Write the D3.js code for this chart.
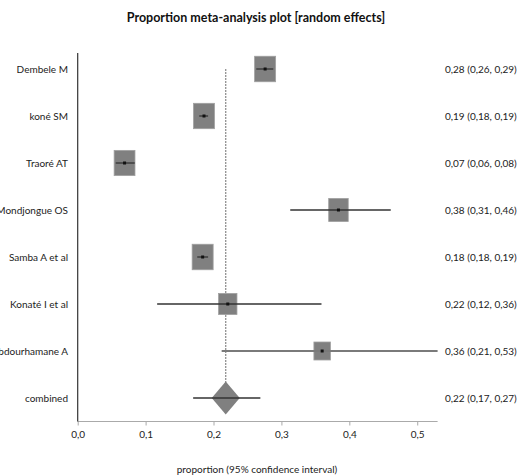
<!DOCTYPE html>
<html><head><meta charset="utf-8">
<script src="https://cdn.jsdelivr.net/npm/d3@7"></script>
<style>body{margin:0;background:#fff;} svg{display:block;font-family:Lato, "Liberation Sans", sans-serif;}</style>
</head><body><div id="chart"></div>
<script>
const studies = ["Dembele M","koné SM","Traoré AT","Mondjongue OS","Samba A et al","Konaté I et al","Abdourhamane A"];
const estimates = [0.276,0.186,0.069,0.384,0.184,0.221,0.36];
const lowerCI  = [0.263,0.179,0.056,0.313,0.176,0.117,0.212];
const upperCI  = [0.288,0.192,0.084,0.461,0.192,0.359,0.53];
const weights  = [15.5,15.4,15.3,13.7,15.5,12.3,10.0];
const combinedLabel = "combined";
const combinedEst = 0.218, combinedLow = 0.17, combinedHigh = 0.269;
const xTicks = [0,0.1,0.2,0.3,0.4,0.5];

const W = 523, H = 475;
const svg = d3.select("#chart").append("svg").attr("width", W).attr("height", H);

const x = d3.scaleLinear().domain([0, 0.53]).range([77.7, 437.6]);
const rows = studies.concat([combinedLabel]);
const y = d3.scalePoint().domain(rows).range([69, 398]);
const wScale = d3.scaleLinear().domain([10, 15.5]).range([16.5, 21]);
const hScale = d3.scaleLinear().domain([10, 15.5]).range([18, 25.5]);
const fmt = v => d3.format(".2f")(v).replace(".", ",");

// title
svg.append("text").attr("x", 256).attr("y", 22).attr("text-anchor","middle")
  .attr("font-weight","bold").attr("font-size", 12.5).attr("fill","#111")
  .text("Proportion meta-analysis plot [random effects]");

// bottom axis
const xAxis = d3.axisBottom(x).tickValues(xTicks).tickSize(4).tickFormat(d => fmt(d).replace(/(\,\d)0$/,"$1"));
const gx = svg.append("g").attr("transform","translate(0,421.5)").call(xAxis);
gx.select(".domain").attr("stroke","#aaa").attr("d", `M${x(0)},0H${x(0.53)}`);
gx.selectAll(".tick line").attr("stroke","#aaa");
gx.selectAll(".tick text").attr("font-size",10).attr("fill","#222").attr("dy","0.9em")
  .attr("font-family","Lato, sans-serif");
gx.selectAll(".tick text").text(d => d3.format(".1f")(d).replace(".", ","));

// left axis line
svg.append("line").attr("x1", x(0)).attr("x2", x(0)).attr("y1", 53).attr("y2", 421.5)
  .attr("stroke","#333").attr("stroke-width",1.2);

// reference dashed line
svg.append("line").attr("x1", x(combinedEst)).attr("x2", x(combinedEst))
  .attr("y1", y(studies[0])).attr("y2", y(combinedLabel))
  .attr("stroke","#888").attr("stroke-width",1.2).attr("stroke-dasharray","2,1");

const data = studies.map((s,i) => ({s, e: estimates[i], lo: lowerCI[i], hi: upperCI[i], w: weights[i]}));

// squares
svg.append("g").selectAll("rect").data(data).join("rect")
  .attr("x", d => x(d.e) - wScale(d.w)/2)
  .attr("y", d => y(d.s) - hScale(d.w)/2)
  .attr("width", d => wScale(d.w)).attr("height", d => hScale(d.w))
  .attr("fill","#808080").attr("stroke","#a0a0a0").attr("stroke-width",0.8);

// CI lines
svg.append("g").selectAll("line").data(data).join("line")
  .attr("x1", d => x(d.lo)).attr("x2", d => x(Math.min(d.hi, 0.53)))
  .attr("y1", d => y(d.s)).attr("y2", d => y(d.s))
  .attr("stroke", (d,i) => i === studies.length-1 ? "#7a7a7a" : "#333")
  .attr("stroke-width", (d,i) => i === studies.length-1 ? 2 : 1.3);

// center points
svg.append("g").selectAll("rect").data(data).join("rect")
  .attr("x", d => x(d.e) - 1.5).attr("y", d => y(d.s) - 1.5)
  .attr("width", 3).attr("height", 3).attr("fill","#111");

// combined diamond
const cy = y(combinedLabel), cx = x(combinedEst);
svg.append("path").attr("d", `M${cx},${cy-16.5}L${cx+14},${cy}L${cx},${cy+16.5}L${cx-14},${cy}Z`)
  .attr("fill","#808080");
svg.append("line").attr("x1", x(combinedLow)).attr("x2", x(combinedHigh)).attr("y1", cy).attr("y2", cy)
  .attr("stroke","#333").attr("stroke-width",1.3);

// left labels
svg.append("g").selectAll("text").data(rows).join("text")
  .attr("x", 68).attr("y", d => y(d)).attr("dy","0.35em").attr("text-anchor","end")
  .attr("font-size",10).attr("fill","#222").text(d => d);

// right labels
const rightE = estimates.concat([combinedEst]), rightL = lowerCI.concat([combinedLow]), rightH = upperCI.concat([combinedHigh]);
svg.append("g").selectAll("text").data(rows).join("text")
  .attr("x", 445).attr("y", d => y(d)).attr("dy","0.35em")
  .attr("font-size",10).attr("fill","#222")
  .text((d,i) => `${fmt(rightE[i])} (${fmt(rightL[i])}, ${fmt(rightH[i])})`);

// axis label
svg.append("text").attr("x", 257).attr("y", 469).attr("dy","0.35em").attr("text-anchor","middle")
  .attr("font-size",10).attr("fill","#222").text("proportion (95% confidence interval)");
</script></body></html>
